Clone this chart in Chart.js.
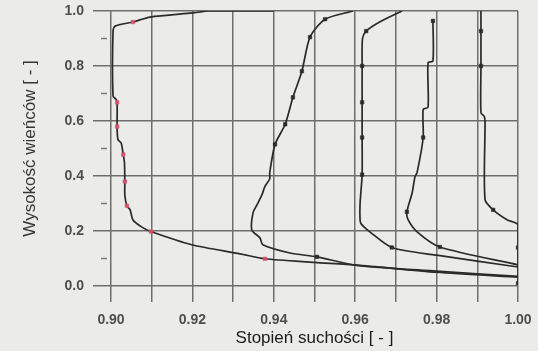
<!DOCTYPE html>
<html lang="pl">
<head>
  <meta charset="UTF-8">
  <title>Stopień suchości</title>
  <script src="https://cdn.jsdelivr.net/npm/chart.js"></script>
  <style>
    body {
      margin: 0;
      background-color: #ebebea;
    }
    #chart {
      display: block;
    }
  </style>
</head>
<body>
  <canvas id="chart" width="538" height="351"></canvas>

  <script>
    // osie
    const xTicks = [0.90, 0.91, 0.92, 0.93, 0.94, 0.95, 0.96, 0.97, 0.98, 0.99, 1.00];
    const yTicks = [0.0, 0.2, 0.4, 0.6, 0.8, 1.0];
    const yMinorTicks = [0.1, 0.3, 0.5, 0.7, 0.9];

    // seria 1 (punkty czerwone)
    const s1x = [1.000, 0.980, 0.9604, 0.950, 0.9378, 0.9317, 0.9198, 0.9098, 0.9075, 0.9054, 0.9047, 0.9039, 0.9034, 0.9034, 0.9033, 0.9030, 0.9025, 0.9017, 0.9015, 0.9015, 0.9012, 0.9005, 0.9005, 0.9010, 0.9054, 0.9096, 0.9200, 0.9243, 0.9400];
    const s1y = [0.032, 0.050, 0.076, 0.086, 0.099, 0.117, 0.150, 0.198, 0.215, 0.240, 0.277, 0.292, 0.330, 0.380, 0.450, 0.478, 0.520, 0.533, 0.580, 0.668, 0.680, 0.690, 0.927, 0.945, 0.960, 0.978, 0.993, 1.000, 1.000];
    const s1m = [0, 0, 0, 0, 1, 0, 0, 1, 0, 0, 0, 1, 0, 1, 0, 1, 0, 0, 1, 1, 0, 0, 0, 0, 1, 0, 0, 0, 0];

    // seria 2
    const s2x = [1.000, 0.980, 0.9604, 0.9506, 0.944, 0.9373, 0.9366, 0.9346, 0.9349, 0.9359, 0.9371, 0.9378, 0.9390, 0.9390, 0.9403, 0.9428, 0.9447, 0.9469, 0.9489, 0.9526, 0.9595];
    const s2y = [0.035, 0.054, 0.075, 0.106, 0.120, 0.150, 0.175, 0.204, 0.266, 0.296, 0.332, 0.361, 0.390, 0.412, 0.515, 0.588, 0.686, 0.781, 0.905, 0.970, 1.000];
    const s2m = [0, 0, 0, 1, 0, 0, 0, 0, 0, 0, 0, 0, 0, 0, 1, 1, 1, 1, 1, 1, 0];

    // seria 3
    const s3x = [1.000, 0.980, 0.9690, 0.9636, 0.9615, 0.9612, 0.9612, 0.9617, 0.9617, 0.9617, 0.9617, 0.9618, 0.9627, 0.9660, 0.9715];
    const s3y = [0.069, 0.112, 0.140, 0.197, 0.225, 0.240, 0.300, 0.405, 0.540, 0.668, 0.800, 0.900, 0.927, 0.960, 1.000];
    const s3m = [0, 0, 1, 0, 0, 0, 0, 1, 1, 1, 1, 0, 1, 0, 0];

    // seria 4
    const s4x = [1.000, 0.9808, 0.9752, 0.9730, 0.9727, 0.9740, 0.9747, 0.9752, 0.9767, 0.9767, 0.9779, 0.9779, 0.9791, 0.9791];
    const s4y = [0.077, 0.142, 0.197, 0.241, 0.270, 0.339, 0.398, 0.412, 0.540, 0.642, 0.650, 0.812, 0.818, 0.964];
    const s4m = [0, 1, 0, 0, 1, 0, 0, 0, 1, 0, 0, 0, 0, 1];

    // seria 5
    const s5x = [1.000, 1.000, 1.000, 0.9973, 0.9939, 0.9919, 0.9919, 0.9917, 0.9909, 0.9909, 0.9909, 0.9909];
    const s5y = [0.010, 0.140, 0.223, 0.241, 0.277, 0.314, 0.600, 0.617, 0.630, 0.800, 0.927, 1.000];
    const s5m = [1, 1, 0, 0, 1, 0, 0, 0, 0, 1, 1, 0];

    const lineColor = '#2a2a2a';
    const redMark = '#d6506c';
    const gridColor = '#6e6e6e';
    const fontFamily = 'Liberation Sans, Arial, sans-serif';

    function series(xs, ys, marks, markColor) {
      return {
        data: xs.map((x, i) => ({ x: x, y: ys[i] })),
        showLine: true,
        borderColor: lineColor,
        borderWidth: 1.7,
        tension: 0.25,
        pointStyle: 'rect',
        pointRadius: ctx => marks[ctx.dataIndex] ? 2.5 : 0,
        pointBackgroundColor: markColor,
        pointBorderColor: markColor,
        pointBorderWidth: 0.5
      };
    }

    // krótkie kreski pomocnicze na osi pionowej
    const minorTicks = {
      id: 'minorTicks',
      afterDraw(chart) {
        const y = chart.scales.y;
        const ctx = chart.ctx;
        ctx.save();
        ctx.strokeStyle = '#777';
        ctx.lineWidth = 1.5;
        yMinorTicks.forEach(v => {
          const py = y.getPixelForValue(v);
          ctx.beginPath();
          ctx.moveTo(y.right - 10, py);
          ctx.lineTo(y.right - 4, py);
          ctx.stroke();
        });
        ctx.restore();
      }
    };

    new Chart(document.getElementById('chart'), {
      type: 'scatter',
      data: {
        datasets: [
          series(s2x, s2y, s2m, lineColor),
          series(s3x, s3y, s3m, lineColor),
          series(s4x, s4y, s4m, lineColor),
          series(s5x, s5y, s5m, lineColor),
          series(s1x, s1y, s1m, redMark)
        ]
      },
      options: {
        responsive: false,
        animation: false,
        layout: { padding: { left: 0, right: 20, top: 11, bottom: 0 } },
        plugins: {
          legend: { display: false },
          tooltip: { enabled: false }
        },
        scales: {
          x: {
            type: 'linear',
            min: 0.90,
            max: 1.00,
            afterBuildTicks: scale => { scale.ticks = xTicks.map(v => ({ value: v })); },
            afterFit: scale => {
              scale.height = 65;
              scale.paddingLeft = 0;
              scale.paddingRight = 0;
            },
            grid: { color: gridColor, lineWidth: 1.5, tickLength: 16, tickColor: gridColor },
            border: { display: false },
            ticks: {
              padding: 10,
              color: '#4e4e4e',
              font: { family: fontFamily, size: 14, weight: 'bold' },
              callback: v => (Math.round(v * 100) % 2 === 0) ? v.toFixed(2) : ''
            },
            title: {
              display: true,
              text: 'Stopień suchości [ - ]',
              color: '#1a1a1a',
              padding: { top: 0, bottom: 4 },
              font: { family: fontFamily, size: 17, lineHeight: 1.0 }
            }
          },
          y: {
            type: 'linear',
            min: 0,
            max: 1,
            afterBuildTicks: scale => { scale.ticks = yTicks.map(v => ({ value: v })); },
            afterFit: scale => {
              scale.width = 111;
              scale.paddingTop = 0;
              scale.paddingBottom = 0;
            },
            grid: { color: gridColor, lineWidth: 1.5, tickLength: 18, tickColor: gridColor },
            border: { display: false },
            ticks: {
              padding: 9,
              color: '#4e4e4e',
              font: { family: fontFamily, size: 14, weight: 'bold' },
              callback: v => v.toFixed(1)
            },
            title: {
              display: true,
              text: 'Wysokość wieńców [ - ]',
              color: '#363636',
              padding: { top: 20, bottom: 0 },
              font: { family: fontFamily, size: 17, lineHeight: 1.2 }
            }
          }
        }
      },
      plugins: [minorTicks]
    });
  </script>
</body>
</html>
